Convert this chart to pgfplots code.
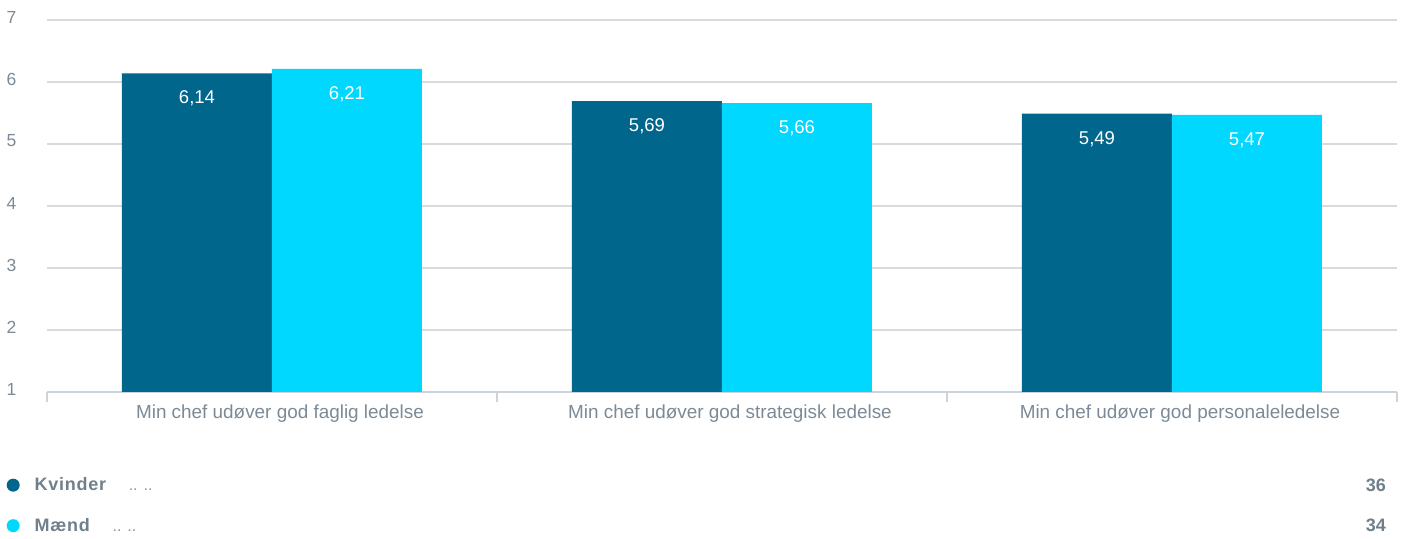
\documentclass[border=0pt]{standalone}
\usepackage{pgfplots}
\pgfplotsset{compat=1.18}
\usepackage{fontspec}
\setmainfont{Liberation Sans}
\definecolor{dark}{HTML}{00668C}
\definecolor{light}{HTML}{00D8FF}
\definecolor{ticktext}{HTML}{7B8A96}
\definecolor{legtext}{HTML}{6F808A}
\definecolor{dotc}{HTML}{8C99A3}
\definecolor{gridc}{HTML}{DADADA}
\definecolor{axisc}{HTML}{CBD3DB}
\begin{document}
\begin{tikzpicture}
\useasboundingbox (0,0) rectangle (1404bp,539bp);
\begin{axis}[
  at={(47bp,147bp)}, anchor=south west,
  scale only axis, width=1350bp, height=372bp,
  xmin=-0.5, xmax=2.5, ymin=1, ymax=7,
  ybar,
  ytick={1,2,3,4,5,6,7},
  /pgf/number format/assume math mode=true,
  ymajorgrids, grid style={gridc, line width=1.3bp},
  axis x line*=bottom, axis y line*=left,
  y axis line style={draw=none},
  x axis line style={axisc, line width=1.5bp},
  xtick={0,1,2},
  xticklabels={Min chef udøver god faglig ledelse, Min chef udøver god strategisk ledelse, Min chef udøver god personaleledelse},
  minor xtick={-0.5,0.5,1.5,2.5},
  tick align=outside,
  major tick length=0pt, minor tick length=10bp,
  xtick style={axisc, line width=1.5bp},
  ytick style={draw=none},
  xticklabel style={font=\fontsize{18.9bp}{22bp}\selectfont, text=ticktext, yshift=-9bp, xshift=8bp},
  yticklabel style={font=\fontsize{17.5bp}{21bp}\selectfont, text=ticktext, xshift=-27bp, yshift=3bp},
  bar width=150bp,
  nodes near coords={\pgfmathprintnumber[fixed,fixed zerofill,precision=2,use comma]{\pgfplotspointmeta}},
  every node near coord/.append style={anchor=north, yshift=-14bp, text=white, font=\fontsize{18.5bp}{21bp}\selectfont},
  legend image code/.code={\fill[#1] (0bp,0bp) circle (6.5bp);},
  legend cell align=left,
  legend style={at={(axis description cs:-0.030,-0.225)}, anchor=north west, draw=none, fill=none,
    inner sep=0pt, row sep=22bp,
    font=\fontsize{18bp}{21bp}\selectfont,
    /tikz/every odd column/.append style={column sep=13bp}},
]
\addplot[fill=dark, draw=none, bar shift=-75bp] coordinates {(0,6.14) (1,5.69) (2,5.49)};
\addlegendentry{\textcolor{legtext}{\addfontfeature{LetterSpace=4}\textbf{Kvinder}}\hspace{22bp}\textcolor{dotc}{\fontsize{16bp}{18bp}\selectfont.. ..}}
\addplot[fill=light, draw=none, bar shift=75bp] coordinates {(0,6.21) (1,5.66) (2,5.47)};
\addlegendentry{\textcolor{legtext}{\addfontfeature{LetterSpace=4}\textbf{Mænd}}\hspace{22bp}\textcolor{dotc}{\fontsize{16bp}{18bp}\selectfont.. ..}}
\end{axis}
\node[anchor=base east, inner sep=0pt, text=legtext, font=\fontsize{18bp}{21bp}\selectfont\bfseries] at (1386bp,47bp) {36};
\node[anchor=base east, inner sep=0pt, text=legtext, font=\fontsize{18bp}{21bp}\selectfont\bfseries] at (1386bp,8bp) {34};
\end{tikzpicture}
\end{document}
